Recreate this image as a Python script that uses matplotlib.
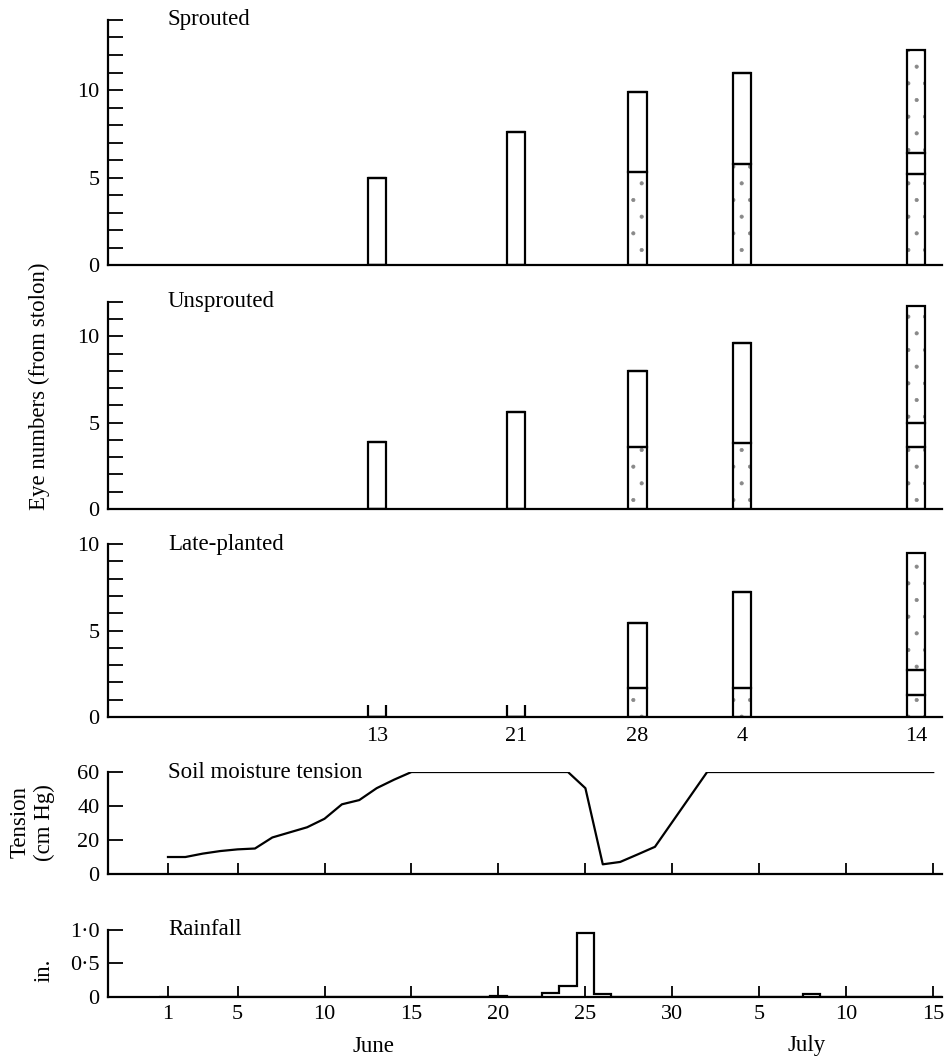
import matplotlib.pyplot as plt
import numpy as np

plt.rcParams['font.family'] = ['Liberation Serif', 'DejaVu Serif']
plt.rcParams['hatch.linewidth'] = 0.5

FS = 16.5
TICK_FS = 16

# sampling dates, counted in days from 1 June (4 and 14 are July)
sample_days = [13, 21, 28, 34, 44]
sample_labels = ['13', '21', '28', '4', '14']

# eye numbers per date: stippled base, open band, stippled top
sprouted_lower = [0, 0, 5.3, 5.8, 5.2]
sprouted_open = [5.0, 7.6, 4.6, 5.2, 1.2]
sprouted_upper = [0, 0, 0, 0, 5.9]

unsprouted_lower = [0, 0, 3.6, 3.85, 3.6]
unsprouted_open = [3.9, 5.6, 4.4, 5.8, 1.4]
unsprouted_upper = [0, 0, 0, 0, 6.75]

late_lower = [0, 0, 1.7, 1.7, 1.3]
late_open = [0, 0, 3.75, 5.5, 1.4]
late_upper = [0, 0, 0, 0, 6.8]

# soil moisture tension (cm Hg)
tension_day = [1, 2, 3, 4, 5, 6, 7, 8, 9, 10, 11, 12, 13, 14, 15,
               24, 25, 26, 27, 28, 29, 32, 45]
tension_cm = [10, 10, 12, 13.5, 14.5, 15, 21.5, 24.5, 27.5, 32.5, 41, 43.5, 50.5, 55.5, 60,
              60, 50.5, 5.7, 7.1, 11.5, 16, 60, 60]

# daily rainfall (in.)
rain_day = [20, 23, 24, 25, 26, 38]
rain_in = [0.02, 0.06, 0.17, 0.95, 0.05, 0.05]

date_ticks = [1, 5, 10, 15, 20, 25, 30, 35, 40, 45]
date_labels = ['1', '5', '10', '15', '20', '25', '30', '5', '10', '15']

XLIM = (-2.45, 45.5)
BAR_W = 1.05
LW = 1.6

fig = plt.figure(figsize=(9.48, 10.58), dpi=100)
left, width = 0.1139, 0.8797


def style(ax, ymax):
    ax.set_xlim(*XLIM)
    ax.set_ylim(0, ymax)
    for s in ('top', 'right'):
        ax.spines[s].set_visible(False)
    for s in ('left', 'bottom'):
        ax.spines[s].set_linewidth(LW)
    ax.tick_params(axis='y', which='both', direction='in', length=10.5, width=1.3,
                   labelsize=TICK_FS, pad=6)


def eye_panel(rect, title, lower, open_, upper, ymax):
    ax = fig.add_axes(rect)
    style(ax, ymax)
    x = np.array(sample_days)
    lower = np.array(lower)
    open_ = np.array(open_)
    upper = np.array(upper)
    # light stipple first, outlines on top
    dots = dict(width=BAR_W, fill=False, hatch='.', edgecolor='#888888', linewidth=0)
    ax.bar(x, lower, **dots)
    ax.bar(x, upper, bottom=lower + open_, **dots)
    kw = dict(width=BAR_W, fill=False, edgecolor='black', linewidth=LW)
    ax.bar(x, lower, **kw)
    ax.bar(x, open_, bottom=lower, **kw)
    ax.bar(x, upper, bottom=lower + open_, **kw)
    # dates with no eyes are marked by short stubs
    total = lower + open_ + upper
    for d in x[total == 0]:
        ax.vlines([d - BAR_W / 2, d + BAR_W / 2], 0, 0.7, color='black', linewidth=LW)
    ax.set_yticks(range(0, ymax + 1, 5))
    ax.set_yticks(range(ymax + 1), minor=True)
    ax.set_xticks([])
    ax.text(1, 1.0, title, transform=ax.get_xaxis_transform(), fontsize=FS,
            ha='left', va='center')
    return ax


eye_panel([left, 0.7495, width, 0.2316], 'Sprouted',
          sprouted_lower, sprouted_open, sprouted_upper, 14)
eye_panel([left, 0.5189, width, 0.1957], 'Unsprouted',
          unsprouted_lower, unsprouted_open, unsprouted_upper, 12)
ax_late = eye_panel([left, 0.3223, width, 0.1635], 'Late-planted',
                    late_lower, late_open, late_upper, 10)
ax_late.set_xticks(sample_days)
ax_late.set_xticklabels(sample_labels)
ax_late.tick_params(axis='x', length=0, labelsize=TICK_FS, pad=7)

fig.text(0.042, 0.635, 'Eye numbers (from stolon)', rotation=90, fontsize=FS,
         ha='center', va='center')

# soil moisture tension
ax_t = fig.add_axes([left, 0.1739, width, 0.0964])
style(ax_t, 60)
ax_t.plot(tension_day, tension_cm, color='black', linewidth=LW)
ax_t.set_yticks([0, 20, 40, 60])
ax_t.set_xticks(date_ticks)
ax_t.tick_params(axis='x', direction='in', length=8, width=1.3, labelbottom=False)
ax_t.text(1, 1.0, 'Soil moisture tension', transform=ax_t.get_xaxis_transform(),
          fontsize=FS, ha='left', va='center')
fig.text(0.034, 0.223, 'Tension\n(cm Hg)', rotation=90, fontsize=FS,
         ha='center', va='center', linespacing=1.2)

# rainfall
ax_r = fig.add_axes([left, 0.0577, width, 0.0633])
style(ax_r, 1)
daily = np.zeros(45)
daily[np.array(rain_day) - 1] = rain_in
ax_r.stairs(daily, np.arange(0.5, 46), baseline=0, fill=False,
            color='black', linewidth=LW)
ax_r.set_yticks([0, 0.5, 1.0])
ax_r.set_yticklabels(['0', '0·5', '1·0'])
ax_r.set_xticks(date_ticks)
ax_r.set_xticklabels(date_labels)
ax_r.tick_params(axis='x', direction='in', length=8, width=1.3, labelsize=TICK_FS, pad=6)
ax_r.text(1, 1.0, 'Rainfall', transform=ax_r.get_xaxis_transform(),
          fontsize=FS, ha='left', va='center')
fig.text(0.047, 0.083, 'in.', rotation=90, fontsize=FS, ha='center', va='center')

fig.text(373 / 948, 1 - 1046 / 1058, 'June', fontsize=FS, ha='center', va='center')
fig.text(807 / 948, 1 - 1046 / 1058, 'July', fontsize=FS, ha='center', va='center')

fig.savefig('out.png', dpi=100)
